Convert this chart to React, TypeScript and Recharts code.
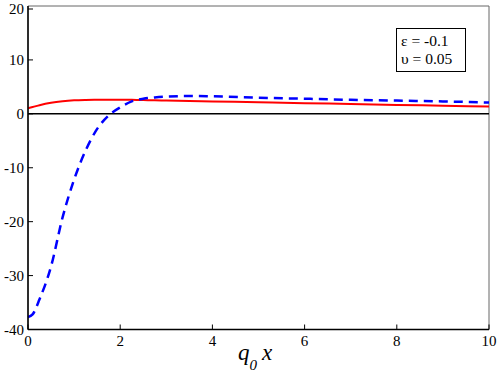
import React from 'react'
import { LineChart, Line, XAxis, YAxis, ReferenceLine, ReferenceArea } from 'recharts'

const xValues = [0, 0.1, 0.25, 0.5, 0.75, 1, 1.25, 1.5, 1.75, 2, 2.25, 2.5, 2.75, 3, 3.5, 4, 5, 6, 7, 8, 9, 10]
const redValues = [1.05, 1.25, 1.6, 2.05, 2.33, 2.5, 2.58, 2.62, 2.63, 2.62, 2.59, 2.55, 2.5, 2.45, 2.38, 2.3, 2.15, 1.98, 1.82, 1.66, 1.5, 1.35]
const blueValues = [-37.7, -37.2, -34.4, -28.3, -19.2, -12.2, -6.8, -2.8, -0.3, 1.2, 2.3, 2.8, 3.05, 3.2, 3.3, 3.25, 3.0, 2.8, 2.6, 2.45, 2.3, 2.1]
const xTicks = [0, 2, 4, 6, 8, 10]
const yTicks = [-40, -30, -20, -10, 0, 10, 20]
const legendLines = ['ε = -0.1', 'υ = 0.05']

const data = xValues.map((x, i) => ({ x, red: redValues[i], blue: blueValues[i] }))

const font = "'Liberation Serif', 'DejaVu Serif', Times, serif"

const XTick = (props: any) => {
  const { x, y, payload } = props
  return (
    <g>
      <line x1={x} y1={y} x2={x} y2={y - 5} stroke="#000" strokeWidth={1} />
      <text x={x} y={y + 16.5} textAnchor="middle" fontFamily={font} fontSize={15} fill="#000">
        {payload.value}
      </text>
    </g>
  )
}

const YTick = (props: any) => {
  const { x, y, payload } = props
  return (
    <g>
      <line x1={x} y1={y} x2={x + 5} y2={y} stroke="#000" strokeWidth={1} />
      <text x={x - 4} y={y + 5} textAnchor="end" fontFamily={font} fontSize={15} fill="#000">
        {payload.value}
      </text>
    </g>
  )
}

export default function App() {
  return (
    <div style={{ position: 'absolute', left: 0, top: 0, width: 498, height: 374, background: '#fff', fontFamily: font }}>
      <LineChart width={498} height={374} data={data} margin={{ top: 6, right: 9, left: 0, bottom: 0 }}>
        <XAxis
          dataKey="x"
          type="number"
          domain={[0, 10]}
          ticks={xTicks}
          tickSize={0}
          tickMargin={0}
          tickLine={false}
          height={44.5}
          stroke="#000"
          strokeWidth={1.5}
          tick={<XTick />}
        />
        <YAxis
          type="number"
          domain={[-40, 20]}
          ticks={yTicks}
          tickSize={0}
          tickMargin={0}
          tickLine={false}
          width={28}
          stroke="#000"
          strokeWidth={1.5}
          tick={<YTick />}
        />
        <ReferenceArea x1={0} x2={10} y1={-40} y2={20} fill="none" stroke="#666" strokeWidth={1} />
        <ReferenceLine y={0} stroke="#000" strokeWidth={1.5} />
        <Line
          type="monotone"
          dataKey="red"
          stroke="#ff0000"
          strokeWidth={2}
          dot={false}
          isAnimationActive={false}
        />
        <Line
          type="monotone"
          dataKey="blue"
          stroke="#0000ff"
          strokeWidth={2.5}
          strokeDasharray="9 6"
          dot={false}
          isAnimationActive={false}
        />
      </LineChart>
      <svg width={498} height={374} style={{ position: 'absolute', left: 0, top: 0, pointerEvents: 'none' }}>
        <rect x={396.5} y={28.5} width={69} height={43} fill="#fff" stroke="#000" strokeWidth={1} />
        {legendLines.map((t, i) => (
          <text key={t} x={401} y={46 + i * 18} fontFamily={font} fontSize={15.5} fill="#000">
            {t}
          </text>
        ))}
        <text x={238} y={360} fontFamily={font} fontSize={23} fontStyle="italic" fill="#000">
          q
          <tspan fontSize={15} dy={10}>0</tspan>
          <tspan dy={-10} dx={5}>x</tspan>
        </text>
      </svg>
    </div>
  )
}
